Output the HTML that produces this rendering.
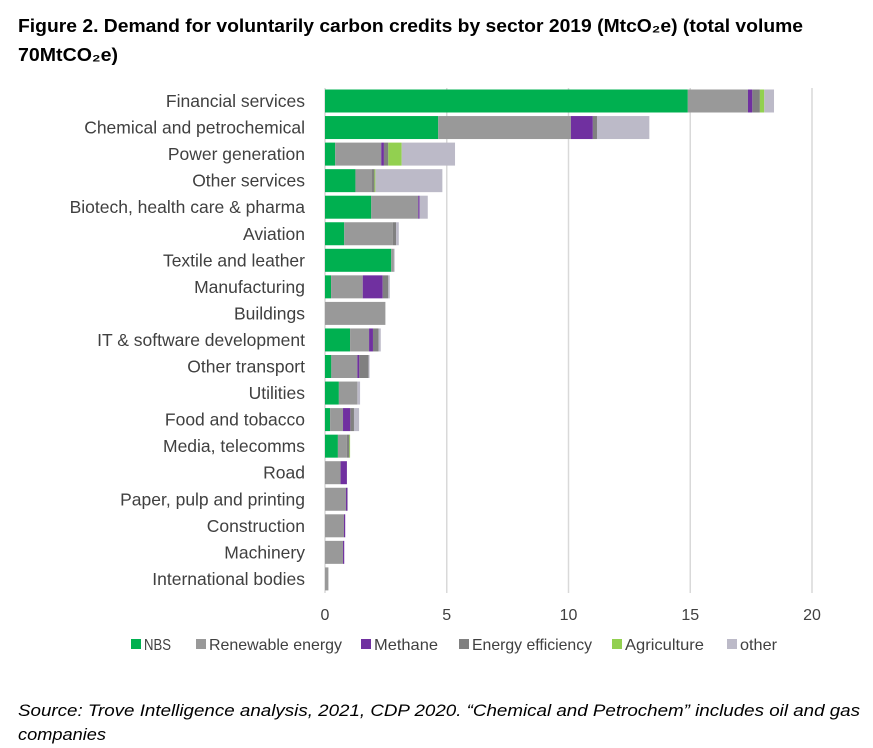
<!DOCTYPE html>
<html><head><meta charset="utf-8"><style>
html,body{margin:0;padding:0;background:#fff;}
svg{display:block;font-family:"Liberation Sans",sans-serif;}
</style></head><body>
<svg id="chart" width="873" height="748" viewBox="0 0 873 748">
<text x="18" y="32" font-size="18.5" font-weight="bold" fill="#000" textLength="785" lengthAdjust="spacingAndGlyphs">Figure 2. Demand for voluntarily carbon credits by sector 2019 (MtcO₂e) (total volume</text>
<text x="18" y="61" font-size="18.5" font-weight="bold" fill="#000" textLength="100" lengthAdjust="spacingAndGlyphs">70MtCO₂e)</text>
<g id="grid"></g>
<g id="bars"></g>
<g id="ylabels"></g>
<g id="xlabels"></g>
<g id="legend"></g>
<text x="18" y="716" font-size="16.5" font-style="italic" fill="#000" textLength="842" lengthAdjust="spacingAndGlyphs">Source: Trove Intelligence analysis, 2021, CDP 2020. “Chemical and Petrochem” includes oil and gas</text>
<text x="18" y="740" font-size="16.5" font-style="italic" fill="#000" textLength="88" lengthAdjust="spacingAndGlyphs">companies</text>
</svg>
<script>
const categories = ["Financial services","Chemical and petrochemical","Power generation","Other services","Biotech, health care & pharma","Aviation","Textile and leather","Manufacturing","Buildings","IT & software development","Other transport","Utilities","Food and tobacco","Media, telecomms","Road","Paper, pulp and printing","Construction","Machinery","International bodies"];
const seriesNames = ["NBS","Renewable energy","Methane","Energy efficiency","Agriculture","other"];
const nbs = [14.9,4.65,0.42,1.25,1.9,0.79,2.72,0.25,0,1.03,0.26,0.57,0.21,0.53,0,0,0,0,0];
const renewable = [2.47,5.45,1.89,0.68,1.93,2.0,0.11,1.3,2.48,0.78,1.07,0.76,0.53,0.37,0.64,0.86,0.78,0.74,0.14];
const methane = [0.18,0.9,0.11,0,0.05,0,0,0.82,0,0.16,0.08,0,0.3,0,0.26,0.06,0.05,0.05,0];
const efficiency = [0.31,0.17,0.18,0.1,0,0.13,0,0.23,0,0.23,0.38,0,0.15,0.1,0,0,0,0,0];
const agriculture = [0.18,0,0.55,0.04,0,0,0,0,0,0,0,0,0,0.03,0,0,0,0,0];
const other = [0.4,2.15,2.19,2.75,0.34,0.11,0.03,0.06,0,0.09,0.04,0.11,0.21,0,0,0.02,0,0,0];
const xTicks = [0,5,10,15,20];
const colors = ["#00b050","#999999","#7030a0","#808080","#92d050","#bcbac8"];
const series = [nbs,renewable,methane,efficiency,agriculture,other];
const NS="http://www.w3.org/2000/svg";
const x0=325, x1=812, xMax=20, top0=88, rowH=26.55, barH=23;
const xs=v=>x0+v/xMax*(x1-x0);
const yc=i=>top0+13+i*rowH;
function mk(tag,attrs,parent){const e=document.createElementNS(NS,tag);for(const k in attrs)e.setAttribute(k,attrs[k]);parent.appendChild(e);return e;}
const grid=document.getElementById('grid');
xTicks.forEach((t,i)=>{
  const l=mk('line',{x1:xs(t),x2:xs(t),y1:88,y2:593,stroke:'#d9d9d9','stroke-width':1.5},grid);
  
  
  const tx=mk('text',{x:xs(t),y:620,'font-size':16,'text-anchor':'middle',fill:'#404040'},document.getElementById('xlabels'));
  tx.textContent=t;
  
  
});
const bars=document.getElementById('bars'), yl=document.getElementById('ylabels');
categories.forEach((c,i)=>{
  let acc=0;
  series.forEach((s,j)=>{
    const v=s[i]; if(v<=0) return;
    const r=mk('rect',{x:xs(acc),y:yc(i)-barH/2,width:xs(acc+v)-xs(acc),height:barH,fill:colors[j]},bars);
    
    
    acc+=v;
  });
  const t=mk('text',{x:305,y:yc(i)+6,'font-size':17.5,'text-anchor':'end',fill:'#404040'},yl);
  t.textContent=c;
  
  
});
const lg=document.getElementById('legend');
const lx=[131,196,361,459,612,727];
const lw=[27,133,64,120,79,37];
seriesNames.forEach((n,j)=>{
  const r=mk('rect',{x:lx[j],y:639,width:10,height:10,fill:colors[j]},lg);
  
  
  const t=mk('text',{x:lx[j]+13,y:650,'font-size':16,fill:'#404040',textLength:lw[j],lengthAdjust:'spacingAndGlyphs'},lg);
  t.textContent=n;
  
  
});
</script>
</body></html>
